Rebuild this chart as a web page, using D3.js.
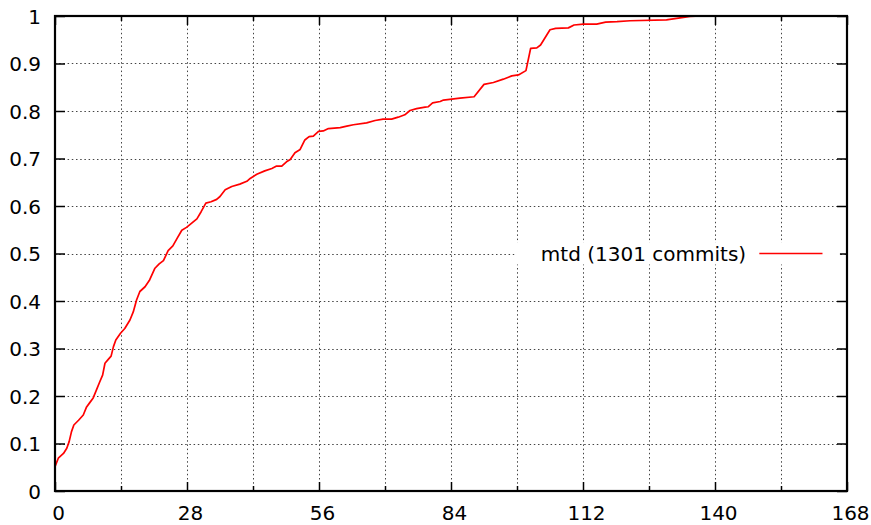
<!DOCTYPE html>
<html>
<head>
<meta charset="utf-8">
<script src="https://cdn.jsdelivr.net/npm/d3@7"></script>
<style>
  html, body { margin: 0; padding: 0; background: #fff; }
  svg { display: block; }
  text { font-family: "DejaVu Sans", sans-serif; fill: #000; }
</style>
</head>
<body>
<script>
// ---- data ----
const seriesName = "mtd (1301 commits)";
const xValues = [0, 0.7, 1.8, 2.5, 3.0, 3.5, 4.0, 5.0, 6.0, 6.7, 7.3, 8.1, 8.8, 9.5, 10.1, 10.6, 11.3, 11.9, 12.4, 12.9, 13.9, 14.8, 15.9, 16.6, 17.3, 18.0, 19.1, 20.0, 21.2, 22.1, 23.0, 24.0, 25.0, 25.9, 26.9, 27.9, 29.0, 30.1, 31.0, 32.0, 33.1, 34.3, 35.0, 36.1, 37.5, 39.2, 40.7, 41.4, 42.8, 44.5, 46.0, 47.0, 48.1, 49.1, 49.9, 50.9, 52.0, 53.0, 53.9, 54.8, 55.9, 56.9, 58.0, 60.5, 61.9, 63.3, 66.1, 67.9, 69.6, 71.4, 72.8, 74.2, 75.3, 76.7, 78.5, 79.2, 80.1, 81.7, 82.4, 85.9, 88.9, 91.0, 93.0, 95.1, 96.9, 98.3, 99.9, 100.9, 102.2, 103.0, 105.0, 106.2, 108.9, 110.1, 112.1, 114.9, 116.8, 119.2, 122.0, 129.7, 133.3, 134.7, 137.0];
const yValues = [0.051, 0.069, 0.079, 0.090, 0.104, 0.125, 0.139, 0.149, 0.160, 0.177, 0.185, 0.196, 0.213, 0.230, 0.244, 0.269, 0.277, 0.284, 0.304, 0.318, 0.332, 0.342, 0.360, 0.377, 0.402, 0.420, 0.430, 0.443, 0.469, 0.478, 0.485, 0.506, 0.516, 0.532, 0.549, 0.555, 0.564, 0.573, 0.588, 0.606, 0.609, 0.614, 0.620, 0.634, 0.641, 0.646, 0.652, 0.658, 0.667, 0.674, 0.679, 0.684, 0.684, 0.693, 0.698, 0.712, 0.719, 0.739, 0.746, 0.747, 0.757, 0.758, 0.763, 0.765, 0.768, 0.771, 0.775, 0.780, 0.783, 0.783, 0.787, 0.792, 0.801, 0.805, 0.808, 0.809, 0.817, 0.820, 0.823, 0.827, 0.830, 0.856, 0.860, 0.867, 0.874, 0.876, 0.885, 0.932, 0.933, 0.939, 0.971, 0.974, 0.975, 0.981, 0.983, 0.983, 0.987, 0.988, 0.990, 0.992, 0.997, 0.999, 1.0];
const xMajorTicks = [0, 28, 56, 84, 112, 140, 168];
const xMinorTicks = [14, 42, 70, 98, 126, 154];
const xGridTicks = [14, 28, 42, 56, 70, 84, 98, 112, 126, 140, 154];
const yTicks = [0, 0.1, 0.2, 0.3, 0.4, 0.5, 0.6, 0.7, 0.8, 0.9, 1];
const yTickLabels = ["0", "0.1", "0.2", "0.3", "0.4", "0.5", "0.6", "0.7", "0.8", "0.9", "1"];

// ---- layout ----
const W = 871, H = 525;
const m = { left: 55, right: 24, top: 16, bottom: 34 };
const iw = W - m.left - m.right, ih = H - m.top - m.bottom;

const svg = d3.select("body").append("svg").attr("width", W).attr("height", H);
const g = svg.append("g").attr("transform", `translate(${m.left},${m.top})`);

const x = d3.scaleLinear().domain([0, 168]).range([0, iw]);
const y = d3.scaleLinear().domain([0, 1]).range([ih, 0]);

const gridStyle = sel => sel.attr("stroke", "#444").attr("stroke-width", 1).attr("stroke-dasharray", "1.5,2.7").attr("fill", "none");

// grid
g.append("g").selectAll("line").data(xGridTicks).join("line")
  .attr("x1", d => Math.round(x(d)) + 0.5).attr("x2", d => Math.round(x(d)) + 0.5)
  .attr("y1", 0).attr("y2", ih).call(gridStyle);
g.append("g").selectAll("line").data(yTicks.slice(1, -1)).join("line")
  .attr("x1", 0).attr("x2", iw)
  .attr("y1", d => Math.round(y(d)) + 0.5).attr("y2", d => Math.round(y(d)) + 0.5).call(gridStyle);

// axes (ticks inward, labels outside)
const fs = 20;
const xAxis = d3.axisBottom(x).tickValues(xMajorTicks).tickSize(-9).tickPadding(0).tickFormat(d3.format("d"));
const gx = g.append("g").attr("transform", `translate(0,${ih})`).call(xAxis);
gx.select(".domain").remove();
gx.selectAll(".tick line").attr("stroke", "#000").attr("stroke-width", 1.5);
gx.selectAll(".tick text").attr("font-size", fs).attr("font-family", "DejaVu Sans").attr("dy", null).attr("y", 29).attr("dx", 3);
const gxm = g.append("g").attr("transform", `translate(0,${ih})`).call(d3.axisBottom(x).tickValues(xMinorTicks).tickSize(-5).tickFormat(""));
gxm.select(".domain").remove();
gxm.selectAll(".tick line").attr("stroke", "#000").attr("stroke-width", 1.5);

// mirrored top ticks
const gxt = g.append("g").call(d3.axisTop(x).tickValues(xMajorTicks).tickSize(-9).tickFormat(""));
gxt.select(".domain").remove();
gxt.selectAll(".tick line").attr("stroke", "#000").attr("stroke-width", 1.5);
const gxtm = g.append("g").call(d3.axisTop(x).tickValues(xMinorTicks).tickSize(-5).tickFormat(""));
gxtm.select(".domain").remove();
gxtm.selectAll(".tick line").attr("stroke", "#000").attr("stroke-width", 1.5);

const yAxis = d3.axisLeft(y).tickValues(yTicks).tickSize(-10).tickPadding(0).tickFormat((d, i) => yTickLabels[i]);
const gy = g.append("g").call(yAxis);
gy.select(".domain").remove();
gy.selectAll(".tick line").attr("stroke", "#000").attr("stroke-width", 1.5);
gy.selectAll(".tick text").attr("font-size", fs).attr("font-family", "DejaVu Sans").attr("x", -14).attr("dy", "0.35em");

const gyr = g.append("g").attr("transform", `translate(${iw},0)`).call(d3.axisRight(y).tickValues(yTicks).tickSize(-10).tickFormat(""));
gyr.select(".domain").remove();
gyr.selectAll(".tick line").attr("stroke", "#000").attr("stroke-width", 1.5);

// legend box (opaque)
const legendY = y(0.5);
g.append("rect").attr("x", x(97.5)).attr("y", legendY - 11).attr("width", x(166.5) - x(97.5)).attr("height", 22).attr("fill", "#fff");
g.append("text").attr("x", x(146.6)).attr("y", legendY).attr("dy", "0.35em").attr("text-anchor", "end")
  .attr("font-size", fs).text(seriesName);
g.append("line").attr("x1", x(149.4)).attr("x2", x(162.8)).attr("y1", legendY).attr("y2", legendY)
  .attr("stroke", "#ff0000").attr("stroke-width", 1.7);

// data line
const pts = xValues.map((v, i) => [v, yValues[i]]);
g.append("path").datum(pts)
  .attr("d", d3.line().x(d => x(d[0])).y(d => y(d[1])))
  .attr("fill", "none").attr("stroke", "#ff0000").attr("stroke-width", 1.7).attr("stroke-linejoin", "round");

// border
g.append("rect").attr("x", 0).attr("y", 0).attr("width", iw).attr("height", ih)
  .attr("fill", "none").attr("stroke", "#000").attr("stroke-width", 2.2);
</script>
</body>
</html>
